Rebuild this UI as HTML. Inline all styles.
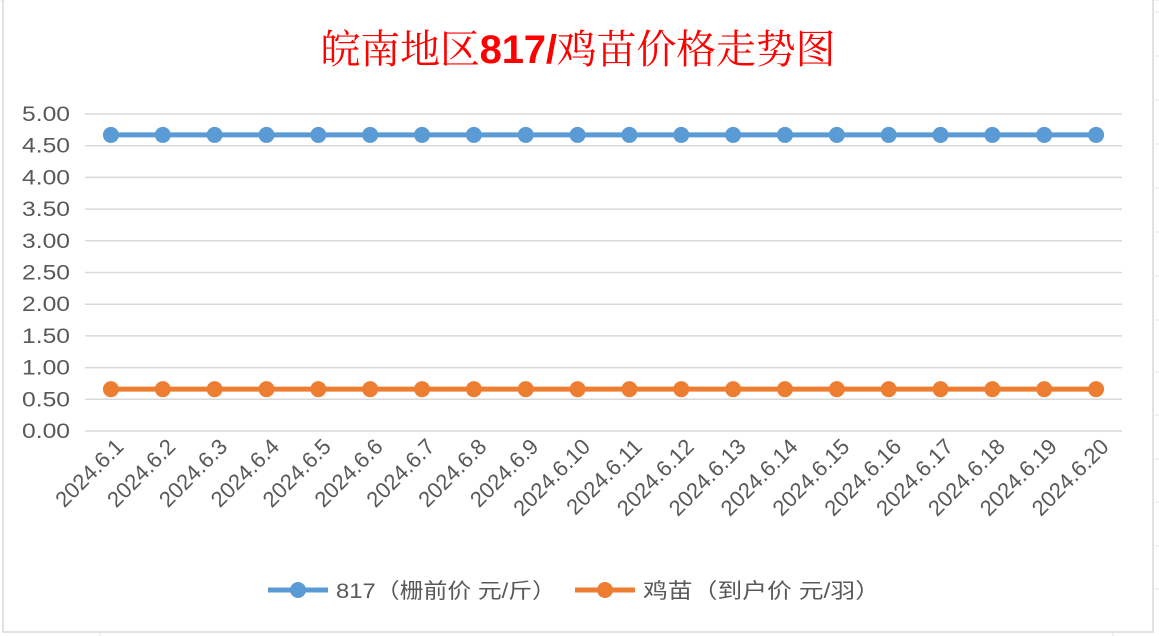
<!DOCTYPE html>
<html><head><meta charset="utf-8"><style>
body{margin:0;background:#fff;}
svg{display:block;font-family:"Liberation Sans","Noto Sans CJK SC",sans-serif;}
</style></head><body>
<svg width="1159" height="636">
<g stroke="#e3e3e3" stroke-width="1">
<line x1="0" y1="0" x2="1159" y2="0"/>
<line x1="100" y1="632" x2="100" y2="636"/><line x1="1113" y1="632" x2="1113" y2="636"/>
<line x1="1155" y1="12" x2="1159" y2="12"/><line x1="1155" y1="56" x2="1159" y2="56"/>
<line x1="1155" y1="100" x2="1159" y2="100"/><line x1="1155" y1="144" x2="1159" y2="144"/>
<line x1="1155" y1="188" x2="1159" y2="188"/><line x1="1155" y1="232" x2="1159" y2="232"/>
<line x1="1155" y1="276" x2="1159" y2="276"/><line x1="1155" y1="320" x2="1159" y2="320"/>
<line x1="1155" y1="372" x2="1159" y2="372"/><line x1="1155" y1="415" x2="1159" y2="415"/>
<line x1="1155" y1="459" x2="1159" y2="459"/><line x1="1155" y1="502" x2="1159" y2="502"/>
<line x1="1155" y1="546" x2="1159" y2="546"/><line x1="1155" y1="589" x2="1159" y2="589"/>
</g>
<rect x="3" y="-2" width="1150" height="634" fill="#fff" stroke="#d9d9d9" stroke-width="1.5"/>
<text x="578" y="63" text-anchor="middle" font-size="40" fill="#ff0000" font-family="'Noto Serif CJK SC','Liberation Serif',serif" textLength="515">皖南地区<tspan font-weight="bold" font-family="'Liberation Sans',sans-serif">817/</tspan>鸡苗价格走势图</text>
<g id="grid"></g>
<g id="yt"></g>
<g id="xt"></g>
<g id="series"></g>
<g font-size="21" fill="#595959">
<g>
<line x1="268" y1="590" x2="328" y2="590" stroke="#5b9bd5" stroke-width="5"/><circle cx="298" cy="590" r="8" fill="#5b9bd5"/>
<text x="336" y="598" fill="#595959" textLength="220" lengthAdjust="spacingAndGlyphs">817（栅前价 元/斤）</text></g>
<g>
<line x1="575" y1="590" x2="635" y2="590" stroke="#ed7d31" stroke-width="5"/><circle cx="605" cy="590" r="8" fill="#ed7d31"/>
<text x="643" y="598" fill="#595959" textLength="237" lengthAdjust="spacingAndGlyphs">鸡苗（到户价 元/羽）</text></g>
</g>
</svg>
<script>
const categories=["2024.6.1","2024.6.2","2024.6.3","2024.6.4","2024.6.5","2024.6.6","2024.6.7","2024.6.8","2024.6.9","2024.6.10","2024.6.11","2024.6.12","2024.6.13","2024.6.14","2024.6.15","2024.6.16","2024.6.17","2024.6.18","2024.6.19","2024.6.20"];
const series817=[4.67,4.67,4.67,4.67,4.67,4.67,4.67,4.67,4.67,4.67,4.67,4.67,4.67,4.67,4.67,4.67,4.67,4.67,4.67,4.67];
const seriesChick=[0.66,0.66,0.66,0.66,0.66,0.66,0.66,0.66,0.66,0.66,0.66,0.66,0.66,0.66,0.66,0.66,0.66,0.66,0.66,0.66];
const yTicks=["0.00","0.50","1.00","1.50","2.00","2.50","3.00","3.50","4.00","4.50","5.00"];
const NS="http://www.w3.org/2000/svg";
const L=85,R=1122,T=114,B=431,YMAX=5;
const x=i=>L+(R-L)/categories.length*(i+0.5);
const y=v=>B-(B-T)*v/YMAX;
function mk(tag,attrs,parent){const e=document.createElementNS(NS,tag);for(const k in attrs)e.setAttribute(k,attrs[k]);parent.appendChild(e);return e;}
const grid=document.getElementById('grid'),yt=document.getElementById('yt'),xt=document.getElementById('xt'),sg=document.getElementById('series');
yTicks.forEach(t=>{const v=parseFloat(t);
const ln=mk('line',{x1:L,x2:R,y1:y(v),y2:y(v),stroke:'#d9d9d9','stroke-width':1.5},grid);


const tx=mk('text',{x:70,y:y(v)+7,'text-anchor':'end','font-size':21,fill:'#595959',textLength:48,lengthAdjust:'spacingAndGlyphs'},yt);tx.textContent=t;

});
categories.forEach((c,i)=>{const px=x(i)+14,py=448;
const tx=mk('text',{x:px,y:py,'text-anchor':'end','font-size':22,fill:'#595959',transform:`rotate(-45 ${px} ${py})`},xt);tx.textContent=c;

});
[[series817,'#5b9bd5','series-817'],[seriesChick,'#ed7d31','series-chick']].forEach(([d,col,nm])=>{
const g=mk('g',{},sg);


const pl=mk('polyline',{points:d.map((v,i)=>x(i)+','+y(v)).join(' '),fill:'none',stroke:col,'stroke-width':5},g);


d.forEach((v,i)=>{const c=mk('circle',{cx:x(i),cy:y(v),r:8,fill:col},g);

});});
</script>
</body></html>
